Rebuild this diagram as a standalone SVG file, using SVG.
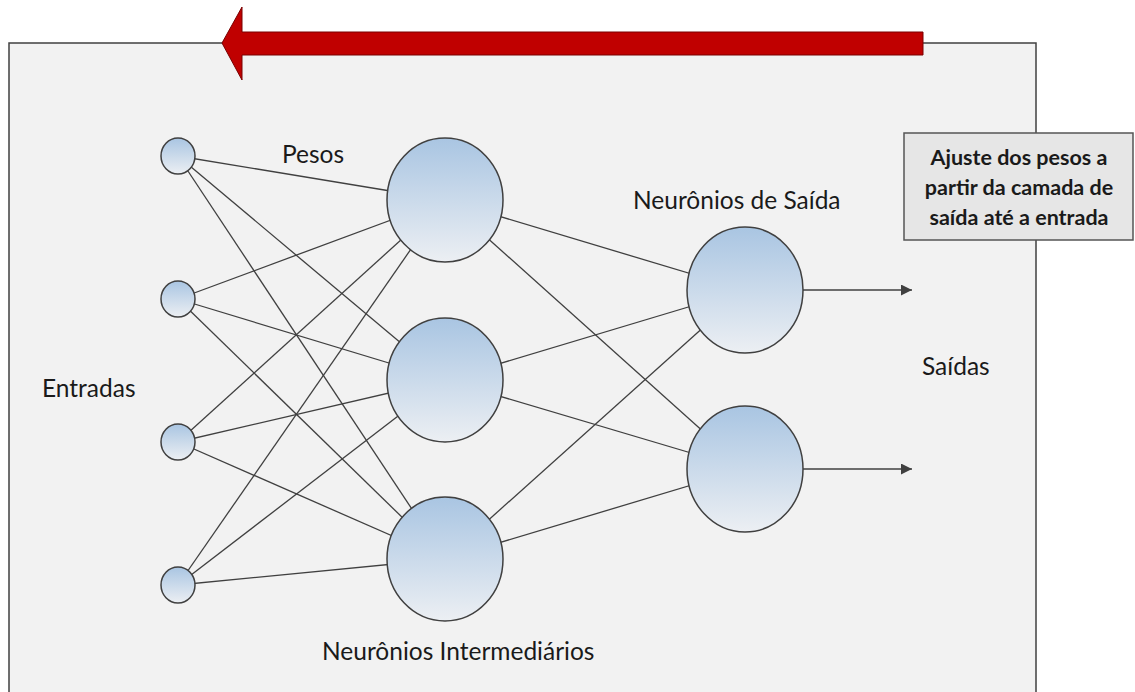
<svg xmlns="http://www.w3.org/2000/svg" width="1135" height="692" viewBox="0 0 1135 692">
  <defs>
    <linearGradient id="neuronFill" x1="0" y1="0" x2="0" y2="1">
      <stop offset="0" stop-color="#a9c5e2"/>
      <stop offset="1" stop-color="#eceff3"/>
    </linearGradient>
    <marker id="outArrow" viewBox="0 0 10 10" refX="10" refY="5" markerWidth="19" markerHeight="11" markerUnits="userSpaceOnUse" orient="auto">
      <path d="M0,0 L10,5 L0,10 Z" fill="#404040"/>
    </marker>
  </defs>
  <style>
    .neuron { fill: url(#neuronFill); stroke: #404040; stroke-width: 1.5; }
    .link { stroke: #404040; stroke-width: 1.3; fill: none; }
    .label { font-family: Lato, "Liberation Sans", sans-serif; font-size: 24.5px; fill: #1a1a1a; }
    .note { font-family: Lato, "Liberation Sans", sans-serif; font-size: 21.5px; font-weight: bold; fill: #1a1a1a; text-anchor: middle; }
  </style>

  <rect width="1135" height="692" fill="#ffffff"/>

  <!-- panel -->
  <rect id="panel" x="9" y="43" width="1027" height="700" fill="#f2f2f2" stroke="#404040" stroke-width="1.5"/>

  <!-- backpropagation direction arrow -->
  <g id="back-arrow">
    <path d="M923,32 L242,32 L242,7 L222,43 L242,80 L242,55 L923,55 Z" fill="#c00000" stroke="#7a0000" stroke-width="1"/>
  </g>

  <!-- connectors -->
  <g id="connectors">
    <!-- inputs to hidden layer -->
    <line class="link" x1="178" y1="156" x2="445" y2="200"/>
    <line class="link" x1="178" y1="156" x2="445" y2="380"/>
    <line class="link" x1="178" y1="156" x2="445" y2="559"/>
    <line class="link" x1="178" y1="299" x2="445" y2="200"/>
    <line class="link" x1="178" y1="299" x2="445" y2="380"/>
    <line class="link" x1="178" y1="299" x2="445" y2="559"/>
    <line class="link" x1="178" y1="442" x2="445" y2="200"/>
    <line class="link" x1="178" y1="442" x2="445" y2="380"/>
    <line class="link" x1="178" y1="442" x2="445" y2="559"/>
    <line class="link" x1="178" y1="585" x2="445" y2="200"/>
    <line class="link" x1="178" y1="585" x2="445" y2="380"/>
    <line class="link" x1="178" y1="585" x2="445" y2="559"/>
    <!-- hidden layer to outputs -->
    <line class="link" x1="445" y1="200" x2="745" y2="290"/>
    <line class="link" x1="445" y1="200" x2="745" y2="469"/>
    <line class="link" x1="445" y1="380" x2="745" y2="290"/>
    <line class="link" x1="445" y1="380" x2="745" y2="469"/>
    <line class="link" x1="445" y1="559" x2="745" y2="290"/>
    <line class="link" x1="445" y1="559" x2="745" y2="469"/>
    <!-- outputs -->
    <line class="link" x1="803" y1="290" x2="912" y2="290" marker-end="url(#outArrow)"/>
    <line class="link" x1="803" y1="469" x2="912" y2="469" marker-end="url(#outArrow)"/>
  </g>

  <!-- input nodes -->
  <g id="in1"><ellipse class="neuron" cx="178" cy="156" rx="17" ry="18"/></g>
  <g id="in2"><ellipse class="neuron" cx="178" cy="299" rx="17" ry="18"/></g>
  <g id="in3"><ellipse class="neuron" cx="178" cy="442" rx="17" ry="18"/></g>
  <g id="in4"><ellipse class="neuron" cx="178" cy="585" rx="17" ry="18"/></g>

  <!-- hidden nodes -->
  <g id="hid1"><ellipse class="neuron" cx="445" cy="200" rx="58" ry="62"/></g>
  <g id="hid2"><ellipse class="neuron" cx="445" cy="380" rx="58" ry="62"/></g>
  <g id="hid3"><ellipse class="neuron" cx="445" cy="559" rx="58" ry="62"/></g>

  <!-- output nodes -->
  <g id="out1"><ellipse class="neuron" cx="745" cy="290" rx="58" ry="63"/></g>
  <g id="out2"><ellipse class="neuron" cx="745" cy="469" rx="58" ry="63"/></g>

  <!-- labels -->
  <text class="label" x="282" y="163">Pesos</text>
  <text class="label" x="42" y="397">Entradas</text>
  <text class="label" x="633" y="209">Neurônios de Saída</text>
  <text class="label" x="922" y="375">Saídas</text>
  <text class="label" x="322" y="660">Neurônios Intermediários</text>

  <!-- note box -->
  <g id="note">
    <rect x="904" y="133" width="229" height="107" fill="#e6e6e6" stroke="#555555" stroke-width="1.5"/>
    <text class="note" x="1019" y="165">Ajuste dos pesos a</text>
    <text class="note" x="1019" y="195">partir da camada de</text>
    <text class="note" x="1019" y="225">saída até a entrada</text>
  </g>
</svg>
